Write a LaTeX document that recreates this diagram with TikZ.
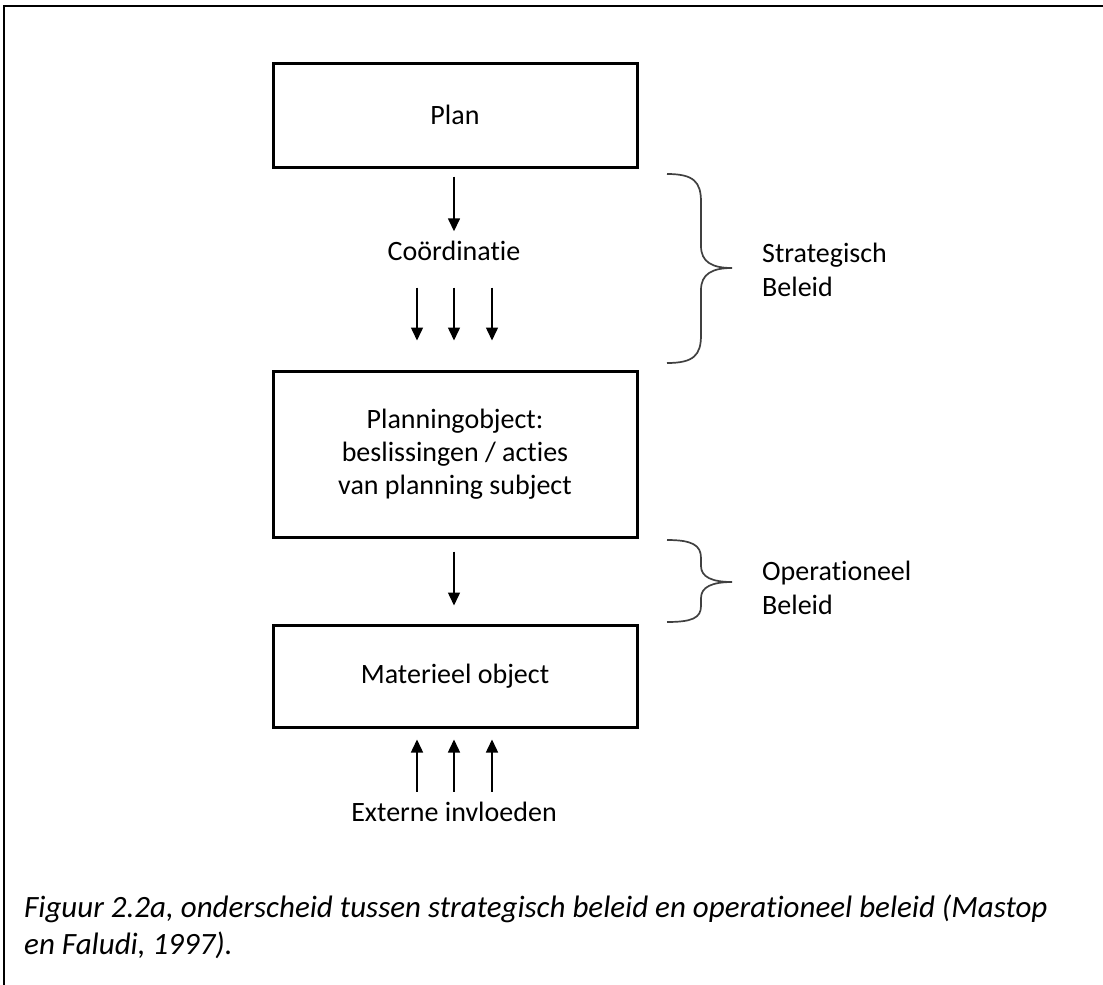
\documentclass[tikz,border=0pt]{standalone}
\usepackage{fontspec}
\setmainfont{Carlito}[Ligatures={NoCommon,NoRare}]
\usetikzlibrary{arrows.meta}
\newcommand{\nolig}{\kern0pt }
\begin{document}
\begin{tikzpicture}[x=1pt,y=-1pt,
 box/.style={draw,line width=3pt,minimum width=364pt,inner sep=0pt,align=center,font=\fontsize{28}{33}\selectfont},
 lbl/.style={font=\fontsize{28}{34}\selectfont,inner sep=0pt,align=center,text height=19pt,text depth=6pt},
 side/.style={font=\fontsize{28}{34}\selectfont,inner sep=0pt,align=left,anchor=west},
 arr/.style={line width=1.5pt,-{Triangle[width=12pt,length=13pt]}},
 uparr/.style={line width=1.5pt,{Triangle[width=12pt,length=13pt]}-},
 bracestyle/.style={line width=1.7pt,draw=black!75}]
\useasboundingbox (0,0) rectangle (1103,985);
\draw[line width=2pt] (1103,6) -- (4,6) -- (4,985);

\node[box,minimum height=104pt] (plan) at (455,115) {Plan};
\node[lbl] (coord) at (454,254) {Coördinat\nolig ie};
\node[box,minimum height=166pt] (planning) at (455,454) {Planningobject:\\beslissingen / act\nolig ies\\van planning subject};
\node[box,minimum height=102pt] (mat) at (455,676) {Materieel object};
\node[lbl] (ext) at (454,815) {Externe invloeden};

\draw[arr,shorten <=8pt,shorten >=10pt] (plan.south -| coord) -- (coord.north);
\foreach \dx in {-37,0,38}{
  \draw[arr,shorten <=21pt,shorten >=29pt] ([xshift=\dx pt]coord.south) -- ([xshift=\dx pt]coord.south |- planning.north);
  \draw[uparr,shorten <=11pt,shorten >=10pt] ([xshift=\dx pt]ext.north |- mat.south) -- ([xshift=\dx pt]ext.north);
}
\draw[arr,shorten <=13pt,shorten >=18pt] (planning.south -| coord) -- (mat.north -| coord);

\draw[bracestyle] (667,174) .. controls (694,174) and (701,182) .. (701,202) -- (701,246)
  .. controls (701,262) and (712,268) .. (732,268)
  .. controls (712,268) and (701,274) .. (701,290) -- (701,335)
  .. controls (701,355) and (694,363) .. (667,363);
\node[side] (strat) at (762,270) {Strategisch\\Beleid};

\draw[bracestyle] (667,540) .. controls (692,540) and (701,545) .. (701,558) -- (701,566)
  .. controls (701,577) and (712,582) .. (732,582)
  .. controls (712,582) and (701,587) .. (701,598) -- (701,606)
  .. controls (701,618) and (692,622) .. (667,622);
\node[side] (oper) at (762,588) {Operat\nolig ioneel\\Beleid};

\node[anchor=west,inner sep=0pt,align=left,font=\fontsize{31}{37}\selectfont\itshape] (cap) at (24,927)
  {Figuur 2.2a, onderscheid tussen strategisch beleid en operat\nolig ioneel beleid (Mastop\\en Faludi, 1997).};
\end{tikzpicture}
\end{document}
